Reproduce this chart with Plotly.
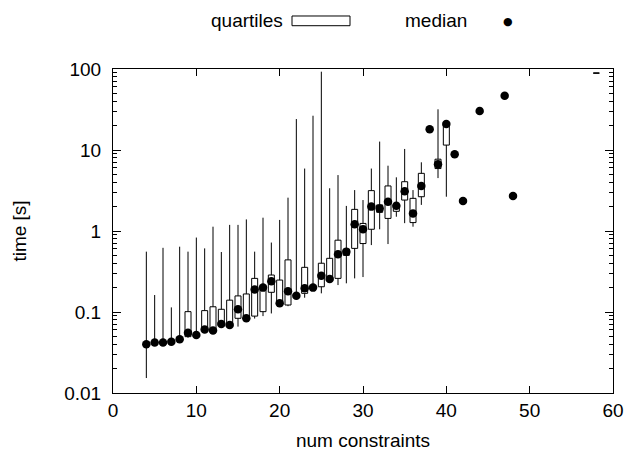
import plotly.graph_objects as go

# ---- data ----
box_x = [4, 5, 6, 7, 8, 9, 10, 11, 12, 13, 14, 15, 16, 17, 18, 19, 20, 21, 22, 23,
         24, 25, 26, 27, 28, 29, 30, 31, 32, 33, 34, 35, 36, 37, 39, 40, 58]
box_min = [0.0153, 0.041, 0.041, 0.042, 0.045, 0.048, 0.05, 0.058, 0.057, 0.066, 0.067,
           0.066, 0.08, 0.083, 0.089, 0.096, 0.125, 0.118, 0.155, 0.15, 0.19, 0.17,
           0.245, 0.215, 0.226, 0.26, 0.27, 0.67, 1.05, 0.69, 1.5, 1.25, 1.13, 2.1,
           4.5, 2.65, 89]
box_q1 = [0.040, 0.041, 0.041, 0.042, 0.045, 0.0496, 0.05, 0.059, 0.058, 0.068, 0.068,
          0.0836, 0.082, 0.089, 0.101, 0.175, 0.128, 0.122, 0.157, 0.17, 0.195, 0.205,
          0.25, 0.26, 0.5, 0.61, 0.70, 1.05, 1.7, 1.43, 1.75, 2.41, 1.27, 2.65,
          5.9, 11.5, 89]
box_med = [0.040, 0.042, 0.042, 0.043, 0.046, 0.0556, 0.052, 0.061, 0.059, 0.071, 0.069,
           0.108, 0.0835, 0.19, 0.2, 0.24, 0.128, 0.18, 0.159, 0.196, 0.2, 0.28,
           0.255, 0.515, 0.556, 1.21, 1.05, 2.0, 1.9, 2.3, 2.05, 3.1, 1.65, 3.6,
           6.65, 20.9, 89]
box_q3 = [0.041, 0.043, 0.043, 0.044, 0.047, 0.101, 0.054, 0.104, 0.116, 0.108, 0.14,
          0.158, 0.167, 0.26, 0.21, 0.286, 0.248, 0.44, 0.165, 0.356, 0.21, 0.4,
          0.46, 0.77, 0.6, 1.85, 1.24, 3.15, 2.1, 3.6, 2.05, 4.06, 2.53, 5.15,
          7.7, 21.0, 89]
box_max = [0.556, 0.162, 0.62, 0.114, 0.64, 0.556, 0.83, 0.61, 1.13, 0.55, 1.19,
           1.19, 1.39, 0.556, 1.46, 0.72, 1.37, 2.58, 24.1, 5.9, 26.5, 92.6,
           3.37, 4.9, 2.04, 3.2, 2.41, 5.9, 12.7, 6.4, 4.6, 10.3, 3.2, 7.05,
           31.8, 21.0, 89]

med_x = [4, 5, 6, 7, 8, 9, 10, 11, 12, 13, 14, 15, 16, 17, 18, 19, 20, 21, 22, 23,
         24, 25, 26, 27, 28, 29, 30, 31, 32, 33, 34, 35, 36, 37, 38, 39, 40, 41, 42,
         44, 47, 48]
med_y = [0.040, 0.042, 0.042, 0.043, 0.046, 0.0556, 0.052, 0.061, 0.059, 0.071, 0.069,
         0.108, 0.0835, 0.19, 0.2, 0.24, 0.128, 0.18, 0.159, 0.196, 0.2, 0.28,
         0.255, 0.515, 0.556, 1.21, 1.05, 2.0, 1.9, 2.3, 2.05, 3.1, 1.65, 3.6,
         18.0, 6.65, 20.9, 8.85, 2.35, 30.3, 46.8, 2.7]

x_ticks = [0, 10, 20, 30, 40, 50, 60]
y_ticks = [0.01, 0.1, 1, 10, 100]
y_tick_text = ["0.01", "0.1", "1", "10", "100"]
y_minor = [m * 10.0 ** e for e in range(-2, 2) for m in range(2, 10)]

FONT = "Liberation Sans, Arial, Helvetica, sans-serif"
FS = 19

fig = go.Figure()
fig.add_trace(go.Box(
    x=box_x, q1=box_q1, median=box_med, q3=box_q3,
    lowerfence=box_min, upperfence=box_max,
    width=0.72, whiskerwidth=0,
    line=dict(color="black", width=1), fillcolor="white",
    boxpoints=False, showlegend=False, hoverinfo="skip",
))
fig.add_trace(go.Scatter(
    x=med_x, y=med_y, mode="markers",
    marker=dict(color="black", size=8.5),
    showlegend=False,
))

# custom gnuplot-style legend (text then sample)
fig.add_annotation(x=0.343, y=1.149, xref="paper", yref="paper", text="quartiles",
                   showarrow=False, xanchor="right", yanchor="middle",
                   font=dict(family=FONT, size=FS, color="black"))
fig.add_shape(type="rect", xref="paper", yref="paper", x0=0.358, x1=0.474,
              y0=1.1336, y1=1.1636, line=dict(color="black", width=1), fillcolor="white")
fig.add_annotation(x=0.645, y=1.149, xref="paper", yref="paper", text="median",
                   showarrow=False, xanchor="center", yanchor="middle",
                   font=dict(family=FONT, size=FS, color="black"))
fig.add_annotation(x=0.79, y=1.148, xref="paper", yref="paper", text="●",
                   showarrow=False, xanchor="center", yanchor="middle",
                   font=dict(family="DejaVu Sans", size=11, color="black"))

axis_common = dict(
    showline=True, linecolor="black", linewidth=1, mirror="ticks",
    ticks="inside", tickcolor="black", tickwidth=1,
    showgrid=False, zeroline=False,
    tickfont=dict(family=FONT, size=FS, color="black"),
)
fig.update_xaxes(range=[0, 60], tickvals=x_ticks, ticklen=7,
                 title=dict(text="num constraints", standoff=13,
                            font=dict(family=FONT, size=FS, color="black")),
                 **axis_common)
fig.update_yaxes(type="log", range=[-2, 2], tickvals=y_ticks, ticktext=y_tick_text,
                 ticklen=8, ticklabelstandoff=7,
                 minor=dict(tickvals=y_minor, ticks="inside", ticklen=4,
                            tickcolor="black", showgrid=False),
                 title=dict(text="time [s]", standoff=32,
                            font=dict(family=FONT, size=FS, color="black")),
                 **axis_common)
fig.update_layout(
    width=627, height=454,
    margin=dict(l=113, r=14, t=69, b=61, autoexpand=False),
    plot_bgcolor="white", paper_bgcolor="white",
    showlegend=False,
)
fig.write_html("out.html")
